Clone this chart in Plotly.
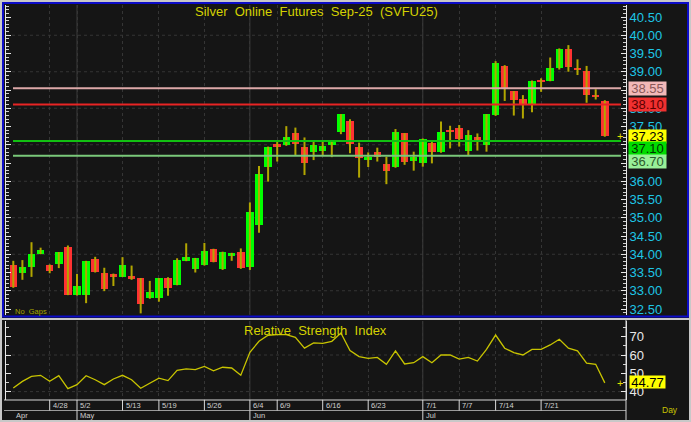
import plotly.graph_objects as go
import numpy as np

# ---------------- data ----------------
dates = ['4/22', '4/23', '4/24', '4/25', '4/28', '4/29', '4/30', '5/2', '5/5', '5/6',
         '5/8', '5/9', '5/13', '5/14', '5/15', '5/16', '5/19', '5/20', '5/21', '5/22',
         '5/23', '5/26', '5/27', '5/28', '5/29', '6/2', '6/4', '6/5', '6/6', '6/9',
         '6/10', '6/11', '6/12', '6/13', '6/16', '6/17', '6/18', '6/19', '6/20', '6/23',
         '6/24', '6/25', '6/26', '6/27', '6/30', '7/1', '7/2', '7/3', '7/4', '7/7',
         '7/8', '7/9', '7/10', '7/14', '7/15', '7/16', '7/17', '7/18', '7/21', '7/22',
         '7/23', '7/24', '7/25', '7/28', '7/29', '7/30']

opens = [33.70, 33.50, 33.64, 34.00, 33.70, 33.73, 34.21, 32.88, 32.88, 33.86,
         33.50, 33.46, 33.39, 33.40, 33.34, 32.79, 32.79, 33.36, 33.16, 33.82,
         33.60, 33.71, 34.14, 33.60, 33.96, 34.06, 33.64, 34.80, 36.40, 37.01,
         36.99, 37.31, 36.94, 36.80, 36.82, 36.99, 37.34, 37.65, 36.94, 36.57,
         36.80, 36.48, 36.38, 37.31, 36.56, 36.49, 37.05, 36.79, 37.39, 37.45,
         36.84, 37.20, 36.99, 37.82, 39.17, 38.46, 38.26, 38.11, 38.76, 38.75,
         39.09, 39.61, 39.08, 39.02, 38.36, 38.21]
highs = [33.82, 33.84, 34.33, 34.18, 33.72, 34.06, 34.24, 33.46, 33.82, 33.93,
         33.63, 33.47, 33.92, 33.69, 33.35, 33.27, 33.35, 33.37, 33.89, 34.30,
         33.90, 34.31, 34.15, 34.07, 34.04, 34.16, 35.42, 36.42, 36.95, 37.08,
         37.51, 37.47, 37.20, 37.08, 37.10, 37.11, 37.84, 37.70, 37.06, 36.79,
         36.92, 36.67, 37.43, 37.32, 36.81, 37.17, 37.08, 37.64, 37.52, 37.54,
         37.40, 37.31, 37.84, 39.29, 39.18, 38.47, 38.36, 38.76, 38.82, 39.39,
         39.64, 39.73, 39.34, 39.16, 38.52, 38.22]
lows = [33.08, 33.30, 33.38, 34.00, 33.48, 33.62, 32.88, 32.87, 32.66, 33.50,
        32.99, 33.13, 33.38, 33.30, 32.38, 32.78, 32.70, 32.86, 33.15, 33.81,
        33.50, 33.69, 33.78, 33.57, 33.82, 33.60, 33.57, 34.59, 35.99, 36.54,
        36.97, 36.72, 36.17, 36.58, 36.72, 36.66, 37.29, 36.77, 36.10, 36.39,
        36.54, 35.92, 36.37, 36.45, 36.29, 36.40, 36.49, 36.78, 36.90, 36.95,
        36.72, 36.84, 36.81, 37.79, 38.20, 37.80, 37.72, 37.89, 38.45, 38.74,
        39.06, 39.00, 38.91, 38.15, 38.24, 37.22]
closes = [33.10, 33.66, 34.00, 34.11, 33.54, 34.05, 32.88, 33.13, 33.81, 33.51,
          33.04, 33.39, 33.70, 33.31, 32.64, 32.97, 33.34, 33.07, 33.83, 33.92,
          33.89, 34.09, 33.80, 34.06, 34.03, 33.61, 35.16, 36.19, 36.94, 36.95,
          37.21, 37.02, 36.49, 36.98, 36.96, 37.10, 37.83, 37.02, 36.65, 36.66,
          36.67, 36.29, 37.34, 36.54, 36.66, 37.16, 36.79, 37.34, 37.36, 37.15,
          37.27, 37.10, 37.83, 39.23, 38.52, 38.23, 38.12, 38.75, 38.73, 39.11,
          39.61, 39.14, 39.05, 38.36, 38.33, 37.23]

rsi = [42.0, 45.6, 48.3, 48.9, 45.6, 48.7, 41.6, 43.8, 48.7, 46.5,
       43.8, 46.9, 48.9, 46.5, 41.8, 44.7, 47.3, 46.0, 51.6, 52.4,
       52.0, 53.8, 51.4, 53.3, 52.9, 48.9, 61.5, 67.5, 70.8, 71.1,
       71.1, 69.7, 63.8, 66.6, 66.4, 67.5, 72.0, 62.5, 59.1, 58.2,
       58.7, 54.9, 62.2, 55.1, 55.8, 59.1, 55.8, 60.0, 60.0, 57.8,
       58.7, 56.7, 63.1, 70.9, 63.7, 61.3, 60.0, 63.1, 63.1, 65.5,
       68.6, 63.7, 62.3, 55.5, 54.9, 44.77]

tick_dates = ['4/28', '5/2', '5/13', '5/19', '5/26', '6/4', '6/9', '6/16', '6/23',
              '7/1', '7/7', '7/14', '7/21']
month_dates = ['4/22', '5/2', '6/4', '7/1']
month_labels = ['Apr', 'May', 'Jun', 'Jul']

level_values = [38.55, 38.10, 37.10, 36.70]
price_ticks = [32.5 + 0.5 * k for k in range(17)]
rsi_ticks = [40, 50, 60, 70]

# ---------------- geometry / style ----------------
W, H = 691, 422
FONT = 'Liberation Sans, Arial, sans-serif'
BG = '#151515'


def fx(p):
    return p / W


def fy(p):
    return 1 - p / H


PLOT_L, PLOT_R = 6, 626
PRICE_T, PRICE_B = 5, 315
RSI_T, RSI_B = 321, 400

fig = go.Figure()

# wicks
wx, wy = [], []
for d, lo, hi in zip(dates, lows, highs):
    wx += [d, d, None]
    wy += [lo, hi, None]
fig.add_trace(go.Scatter(x=wx, y=wy, mode='lines', line=dict(color='#b2a600', width=2),
                         xaxis='x', yaxis='y', hoverinfo='skip', showlegend=False))

# bodies
body_base = [min(o, c) for o, c in zip(opens, closes)]
body_len = [abs(c - o) for o, c in zip(opens, closes)]
body_col = ['#00ff00' if c >= o else '#ff3232' for o, c in zip(opens, closes)]
fig.add_trace(go.Bar(x=dates, y=body_len, base=body_base, width=0.82,
                     marker=dict(color=body_col, line=dict(width=0)),
                     xaxis='x', yaxis='y', hoverinfo='skip', showlegend=False))

# RSI line
fig.add_trace(go.Scatter(x=dates, y=rsi, mode='lines', line=dict(color='#c8c400', width=1.3),
                         xaxis='x2', yaxis='y2', hoverinfo='skip', showlegend=False))

xr = [-(13.3 - PLOT_L) / 9.1, (PLOT_R - 13.3) / 9.1]

common_x = dict(type='category', range=xr, domain=[fx(PLOT_L), fx(PLOT_R)],
                tickvals=tick_dates, showticklabels=False, ticks='',
                showgrid=True, gridcolor='#353535', griddash='dot', gridwidth=1,
                zeroline=False, showline=False, fixedrange=True, automargin=False)

p_lo = 40.5 - (PRICE_B - 17) / 36.5
p_hi = 40.5 + (17 - PRICE_T) / 36.5
r_hi = 70 + (336.7 - RSI_T) / 1.83
r_lo = 70 - (RSI_B - 336.7) / 1.83

fig.update_layout(
    width=W, height=H, autosize=False,
    margin=dict(l=0, r=0, t=0, b=0, pad=0, autoexpand=False),
    paper_bgcolor=BG, plot_bgcolor=BG,
    showlegend=False, hovermode=False, bargap=0,
    font=dict(family=FONT),
    xaxis=dict(anchor='y', **common_x),
    xaxis2=dict(anchor='y2', matches='x', **common_x),
    yaxis=dict(domain=[fy(PRICE_B), fy(PRICE_T)], range=[p_lo, p_hi], side='right',
               anchor='x', tickvals=price_ticks, ticktext=['%.2f' % v for v in price_ticks],
               tickfont=dict(color='#1ec6e6', size=13, family=FONT),
               ticks='inside', ticklen=5, tickcolor='#e8e8e8', tickwidth=1,
               showline=True, linecolor='#e8e8e8', linewidth=1, mirror='ticks',
               minor=dict(dtick=0.1, tick0=32.5, ticks='inside', ticklen=3, tickcolor='#d0d0d0'),
               showgrid=False, zeroline=False, fixedrange=True, ticklabelstandoff=0,
               automargin=False),
    yaxis2=dict(domain=[fy(RSI_B), fy(RSI_T)], range=[r_lo, r_hi], side='right',
                anchor='x2', tickvals=rsi_ticks, ticktext=[str(v) for v in rsi_ticks],
                tickfont=dict(color='#e8e8e8', size=13, family=FONT),
                ticks='inside', ticklen=5, tickcolor='#e8e8e8', tickwidth=1,
                showline=True, linecolor='#e8e8e8', linewidth=1, mirror='ticks',
                minor=dict(dtick=5, tick0=40, ticks='inside', ticklen=3, tickcolor='#d0d0d0'),
                showgrid=False, zeroline=False, fixedrange=True, ticklabelstandoff=0,
                automargin=False),
)

shapes = []
# horizontal grids
for v in range(33, 41):
    shapes.append(dict(type='line', xref='x domain', yref='y', x0=0, x1=1, y0=v, y1=v,
                       line=dict(color='#353535', width=1, dash='dot'), layer='below'))
for v in [40, 60]:
    shapes.append(dict(type='line', xref='x2 domain', yref='y2', x0=0, x1=1, y0=v, y1=v,
                       line=dict(color='#353535', width=1, dash='dot'), layer='below'))
# month boundary solid grid lines
for d in month_dates[1:]:
    for xa, ya in [('x', 'y domain'), ('x2', 'y2 domain')]:
        shapes.append(dict(type='line', xref=xa, yref=ya, x0=d, x1=d, y0=0, y1=1,
                           line=dict(color='#3c3c3c', width=1), layer='below'))

# level lines
level_colors = ['#dca8a8', '#e82424', '#12c012', '#7ac87a']
for v, c in zip(level_values, level_colors):
    shapes.append(dict(type='line', xref='x domain', yref='y',
                       x0=(13 - PLOT_L) / (PLOT_R - PLOT_L), x1=(621 - PLOT_L) / (PLOT_R - PLOT_L),
                       y0=v, y1=v, line=dict(color=c, width=2)))

# bottom date rows
LINE_C = '#d8d8d8'
shapes.append(dict(type='line', xref='paper', yref='paper', x0=fx(4), x1=fx(PLOT_R),
                   y0=fy(400), y1=fy(400), line=dict(color=LINE_C, width=1)))
shapes.append(dict(type='line', xref='paper', yref='paper', x0=fx(4), x1=fx(PLOT_R),
                   y0=fy(410.5), y1=fy(410.5), line=dict(color='#9a9a9a', width=1)))
shapes.append(dict(type='line', xref='paper', yref='paper', x0=fx(4), x1=fx(PLOT_R),
                   y0=fy(420.5), y1=fy(420.5), line=dict(color='#9a9a9a', width=1)))
for d in tick_dates:
    shapes.append(dict(type='line', xref='x2', yref='paper', x0=d, x1=d, y0=fy(400), y1=fy(410.5),
                       line=dict(color=LINE_C, width=1)))
for d in month_dates[1:]:
    shapes.append(dict(type='line', xref='x2', yref='paper', x0=d, x1=d, y0=fy(410.5), y1=fy(420.5),
                       line=dict(color=LINE_C, width=1)))
shapes.append(dict(type='line', xref='paper', yref='paper', x0=fx(PLOT_R), x1=fx(PLOT_R),
                   y0=fy(320), y1=fy(421), line=dict(color=LINE_C, width=1)))

# frames
shapes.append(dict(type='rect', xref='paper', yref='paper', x0=0, x1=1, y0=0, y1=1,
                   line=dict(color='#c8c8c8', width=4)))
shapes.append(dict(type='rect', xref='paper', yref='paper', x0=fx(3), x1=fx(688),
                   y0=fy(316.5), y1=fy(3), line=dict(color='#0c0cc8', width=2)))
shapes.append(dict(type='line', xref='paper', yref='paper', x0=0, x1=1,
                   y0=fy(319), y1=fy(319), line=dict(color='#c8c8c8', width=2)))

annotations = []
YEL = '#d4d200'


def ann(**kw):
    base = dict(showarrow=False, xanchor='center', yanchor='middle')
    base.update(kw)
    annotations.append(base)


ann(xref='paper', yref='paper', x=fx(316), y=fy(12),
    text='Silver \u00a0Online \u00a0Futures \u00a0Sep-25 \u00a0(SVFU25)',
    font=dict(color=YEL, size=13, family=FONT))
ann(xref='paper', yref='paper', x=fx(315), y=fy(330.5),
    text='Relative \u00a0Strength \u00a0Index',
    font=dict(color=YEL, size=13, family=FONT))
ann(xref='paper', yref='paper', x=fx(13), y=fy(311.5), xanchor='left',
    text='No \u00a0Gaps', font=dict(color='#a8a400', size=7.5, family=FONT))
ann(xref='paper', yref='paper', x=fx(670), y=fy(410),
    text='Day', font=dict(color='#c8c400', size=8.5, family=FONT))

# date labels
for d in tick_dates:
    ann(xref='x2', yref='paper', x=d, y=fy(405.3), xanchor='left', xshift=1,
        text=d, font=dict(color='#d0d0d0', size=7.5, family=FONT))
for d, m in zip(month_dates, month_labels):
    ann(xref='x2', yref='paper', x=d, y=fy(415.3), xanchor='left', xshift=1,
        text=m, font=dict(color='#d0d0d0', size=7.5, family=FONT))

# right-side value boxes
box_specs = [
    (level_values[0], '#f2b8b8', '#8a5858', 0),
    (level_values[1], '#f03030', '#5a0000', 0),
    (closes[-1], '#ffff00', '#000000', 0),
    (level_values[2], '#00dc00', '#003300', -7.7),
    (level_values[3], '#98f098', '#2c5a2c', -6.2),
]
for v, bg, fg, ys in box_specs:
    ann(xref='paper', yref='y', x=fx(628), y=v, xanchor='left', yshift=ys,
        text='%.2f' % v, bgcolor=bg, borderpad=0, width=37, height=13,
        font=dict(color=fg, size=13, family=FONT))
ann(xref='paper', yref='y2', x=fx(629), y=rsi[-1], xanchor='left', yshift=1,
    text='%.2f' % rsi[-1], bgcolor='#ffff00', borderpad=0, width=35, height=12,
    font=dict(color='#000000', size=13, family=FONT))
# last-value markers
ann(xref='x domain', yref='y', x=(620 - PLOT_L) / (PLOT_R - PLOT_L), y=closes[-1],
    text='+', font=dict(color='#e0e000', size=11, family=FONT))
ann(xref='x2 domain', yref='y2', x=(620 - PLOT_L) / (PLOT_R - PLOT_L), y=rsi[-1],
    text='+', font=dict(color='#e0e000', size=11, family=FONT))

fig.update_layout(shapes=shapes, annotations=annotations)
fig.write_html('out.html', config={'displayModeBar': False},
               post_script="document.body.style.margin='0px';")
